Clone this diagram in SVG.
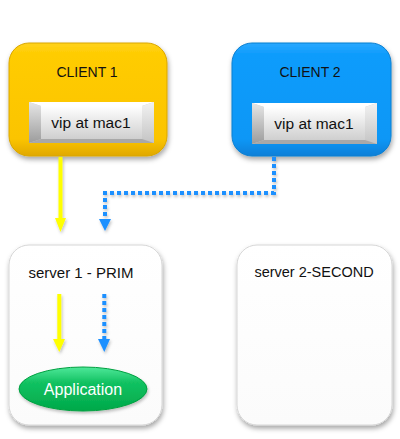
<svg xmlns="http://www.w3.org/2000/svg" width="400" height="439" viewBox="0 0 400 439">
<defs>
<filter id="sh" x="-20%" y="-20%" width="140%" height="140%">
<feDropShadow dx="1" dy="3" stdDeviation="2.5" flood-color="#000" flood-opacity="0.35"/>
</filter>
<filter id="ash" x="-50%" y="-20%" width="200%" height="140%">
<feDropShadow dx="1" dy="2" stdDeviation="1.5" flood-color="#000" flood-opacity="0.25"/>
</filter>
<linearGradient id="gy" x1="0" y1="0" x2="0" y2="1">
<stop offset="0" stop-color="#FFD21A"/>
<stop offset="0.1" stop-color="#FFCC00"/>
<stop offset="0.85" stop-color="#FBC400"/>
<stop offset="1" stop-color="#E0A800"/>
</linearGradient>
<linearGradient id="gb" x1="0" y1="0" x2="0" y2="1">
<stop offset="0" stop-color="#2AA8FF"/>
<stop offset="0.1" stop-color="#0F9CFC"/>
<stop offset="0.85" stop-color="#0A97F6"/>
<stop offset="1" stop-color="#0A7FD8"/>
</linearGradient>
<linearGradient id="gface" x1="0" y1="0" x2="0" y2="1">
<stop offset="0" stop-color="#FFFFFF"/>
<stop offset="1" stop-color="#CFCFCF"/>
</linearGradient>
<linearGradient id="gleft" x1="0" y1="0" x2="0" y2="1">
<stop offset="0" stop-color="#E6E6E6"/>
<stop offset="1" stop-color="#9C9C9C"/>
</linearGradient>
<linearGradient id="gright" x1="0" y1="0" x2="0" y2="1">
<stop offset="0" stop-color="#F2F2F2"/>
<stop offset="1" stop-color="#C4C4C4"/>
</linearGradient>
<linearGradient id="gsrv" x1="0" y1="0" x2="0" y2="1">
<stop offset="0" stop-color="#FFFFFF"/>
<stop offset="1" stop-color="#FBFBFB"/>
</linearGradient>
<linearGradient id="gg" x1="0" y1="0" x2="0" y2="1">
<stop offset="0" stop-color="#4FE89A"/>
<stop offset="0.35" stop-color="#12C262"/>
<stop offset="1" stop-color="#00A849"/>
</linearGradient>
<style>
.lbl{font-family:"Liberation Sans",Arial,sans-serif;fill:#111;}
.srv{fill:url(#gsrv);stroke:#D6D6D6;stroke-width:1;}
</style>
<g id="btn">
<rect x="0" y="0" width="125" height="41" fill="#C8C8C8"/>
<polygon points="0,0 125,0 113,4 12,4" fill="#FFFFFF"/>
<polygon points="0,0 12,4 12,37 0,41" fill="url(#gleft)"/>
<polygon points="125,0 113,4 113,37 125,41" fill="url(#gright)"/>
<polygon points="0,41 12,37 113,37 125,41" fill="#A8A8A8"/>
<rect x="12" y="4" width="101" height="33" fill="url(#gface)"/>
</g>
</defs>

<g id="client1">
<rect x="9" y="43" width="158" height="113" rx="20" fill="url(#gy)" stroke="#D9A600" stroke-width="1" filter="url(#sh)"/>
<text class="lbl" x="87" y="77" font-size="14" text-anchor="middle">CLIENT 1</text>
<use href="#btn" x="29" y="102"/>
<text class="lbl" x="91" y="128" font-size="15.5" text-anchor="middle">vip at mac1</text>
</g>

<g id="client2">
<rect x="232" y="43" width="159" height="113" rx="20" fill="url(#gb)" stroke="#0A7FD0" stroke-width="1" filter="url(#sh)"/>
<text class="lbl" x="310" y="77" font-size="14" text-anchor="middle">CLIENT 2</text>
<use href="#btn" x="252" y="103"/>
<text class="lbl" x="314" y="129" font-size="15.5" text-anchor="middle">vip at mac1</text>
</g>

<g id="server1">
<rect class="srv" x="9" y="245" width="153" height="180" rx="20" filter="url(#sh)"/>
<text class="lbl" x="81" y="278" font-size="15" text-anchor="middle">server 1 - PRIM</text>
</g>

<g id="server2">
<rect class="srv" x="237" y="245" width="155" height="180" rx="20" filter="url(#sh)"/>
<text class="lbl" x="314" y="277" font-size="14.5" text-anchor="middle">server 2-SECOND</text>
</g>

<g id="application">
<ellipse cx="83" cy="389" rx="64" ry="22" fill="url(#gg)" stroke="#00A040" stroke-width="1" filter="url(#ash)"/>
<text x="83" y="395" font-family="'Liberation Sans',Arial,sans-serif" font-size="16" fill="#FFFFFF" text-anchor="middle">Application</text>
</g>

<g id="connectors" filter="url(#ash)">
<line x1="60.5" y1="157" x2="60.5" y2="219" stroke="#FFFF00" stroke-width="4"/>
<polygon points="55,218 66,218 60.5,232" fill="#FFFF00"/>
<path d="M274,157 V193 H105 V219" fill="none" stroke="#1E90FF" stroke-width="4" stroke-dasharray="4 3"/>
<polygon points="99,219 111,219 105,231" fill="#1E90FF"/>
<line x1="59.3" y1="294" x2="59.3" y2="340" stroke="#FFFF00" stroke-width="4"/>
<polygon points="53,339 65,339 59.3,352" fill="#FFFF00"/>
<line x1="104.3" y1="294" x2="104.3" y2="339" stroke="#1E90FF" stroke-width="4" stroke-dasharray="4 3"/>
<polygon points="98,339 110,339 104.3,352" fill="#1E90FF"/>
</g>
</svg>
